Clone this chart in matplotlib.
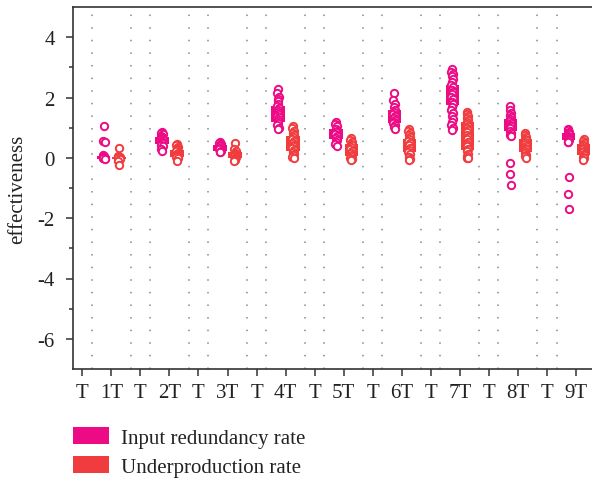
import matplotlib
matplotlib.use("Agg")
import matplotlib.pyplot as plt
from matplotlib.patches import Patch
import numpy as np

plt.rcParams['font.family'] = ['Liberation Serif', 'DejaVu Serif']

# ---------------- data ----------------
tick_labels = ["T", "1T", "T", "2T", "T", "3T", "T", "4T", "T", "5T",
               "T", "6T", "T", "7T", "T", "8T", "T", "9T"]
groups = ["1T", "2T", "3T", "4T", "5T", "6T", "7T", "8T", "9T"]
series_names = ["Input redundancy rate", "Underproduction rate"]

input_points = [
    [1.06, 0.56, 0.51, 0.08, 0.05, 0.03, 0.02, 0.01, 0.0, 0.0, -0.01, -0.02, -0.03],
    [0.86, 0.82, 0.78, 0.74, 0.70, 0.66, 0.62, 0.58, 0.55, 0.52, 0.48, 0.44, 0.38, 0.30, 0.23],
    [0.54, 0.50, 0.47, 0.43, 0.38, 0.33, 0.28, 0.24, 0.20, 0.18],
    [2.27, 2.15, 2.03, 1.95, 1.88, 1.80, 1.72, 1.65, 1.58, 1.52, 1.46, 1.40, 1.34, 1.28,
     1.22, 1.15, 1.08, 1.00, 0.95],
    [1.20, 1.12, 1.04, 0.97, 0.90, 0.84, 0.78, 0.72, 0.66, 0.60, 0.53, 0.45, 0.38],
    [2.14, 1.92, 1.80, 1.70, 1.60, 1.52, 1.45, 1.38, 1.32, 1.26, 1.20, 1.14, 1.08, 1.02, 0.97],
    [2.94, 2.86, 2.78, 2.70, 2.60, 2.50, 2.42, 2.34, 2.26, 2.18, 2.10, 2.02, 1.94, 1.86,
     1.78, 1.70, 1.60, 1.50, 1.40, 1.30, 1.20, 1.10, 1.00, 0.93],
    [1.72, 1.60, 1.50, 1.42, 1.35, 1.28, 1.22, 1.16, 1.10, 1.04, 0.98, 0.90, 0.82, 0.75,
     0.71, -0.18, -0.53, -0.90],
    [0.97, 0.92, 0.87, 0.82, 0.78, 0.74, 0.70, 0.66, 0.62, 0.58, 0.54, 0.51, -0.62, -1.20, -1.68],
]
under_points = [
    [0.31, 0.05, 0.03, 0.01, 0.0, -0.01, -0.02, -0.04, -0.10, -0.23],
    [0.45, 0.41, 0.37, 0.33, 0.29, 0.25, 0.21, 0.17, 0.13, 0.10, 0.07, 0.03, -0.02, -0.10],
    [0.49, 0.30, 0.22, 0.17, 0.13, 0.10, 0.07, 0.04, 0.01, -0.03, -0.07, -0.10],
    [1.06, 0.98, 0.90, 0.83, 0.76, 0.70, 0.63, 0.56, 0.50, 0.44, 0.38, 0.32, 0.26, 0.20,
     0.14, 0.08, 0.02, -0.02],
    [0.67, 0.60, 0.53, 0.47, 0.41, 0.35, 0.29, 0.23, 0.17, 0.11, 0.05, 0.0, -0.05, -0.08],
    [0.97, 0.90, 0.83, 0.76, 0.69, 0.62, 0.55, 0.48, 0.41, 0.34, 0.27, 0.20, 0.12, 0.04,
     -0.03, -0.07],
    [1.52, 1.46, 1.40, 1.33, 1.26, 1.19, 1.12, 1.05, 0.98, 0.91, 0.84, 0.77, 0.70, 0.62,
     0.54, 0.46, 0.38, 0.30, 0.22, 0.14, 0.07, 0.01, -0.02],
    [0.82, 0.76, 0.70, 0.64, 0.58, 0.52, 0.46, 0.40, 0.34, 0.28, 0.22, 0.16, 0.10, 0.05, 0.01],
    [0.62, 0.56, 0.50, 0.44, 0.38, 0.33, 0.28, 0.23, 0.18, 0.13, 0.08, 0.03, -0.02, -0.07],
]
input_q1 = [-0.04, 0.45, 0.21, 1.18, 0.62, 1.15, 1.75, 0.89, 0.59]
input_q3 = [0.06, 0.68, 0.43, 1.72, 0.95, 1.58, 2.41, 1.30, 0.82]
under_q1 = [-0.04, 0.02, -0.02, 0.23, 0.05, 0.20, 0.26, 0.20, 0.09]
under_q3 = [0.04, 0.26, 0.20, 0.71, 0.45, 0.62, 1.19, 0.62, 0.45]

# ---------------- style ----------------
PINK = "#EC0B84"
RED = "#F03C3F"
FS = 15

fig = plt.figure(figsize=(5.92, 4.81), dpi=100)
ax = fig.add_axes([72.7 / 592, 111 / 481, 1 - 72.7 / 592, 362 / 481])

centers = np.arange(1, 2 * len(groups), 2)
offset = 0.26
box_w = 0.46
jit = [0.0, -0.03, 0.03, -0.015, 0.015]

# dotted vertical gridlines around each group
for c in centers:
    ax.axvline(c - 0.672, color="#888888", lw=1.1, ls=(0, (1, 7.25)), zorder=0)
    ax.axvline(c + 0.672, color="#888888", lw=1.1, ls=(0, (1, 7.25)), zorder=0)

for pts_list, q1, q3, sign, col in [(input_points, input_q1, input_q3, -1, PINK),
                                     (under_points, under_q1, under_q3, 1, RED)]:
    xs = centers + sign * offset
    ax.bar(xs, np.array(q3) - np.array(q1), bottom=q1, width=box_w,
           color=col, edgecolor="none", zorder=2)
    for x, pts in zip(xs, pts_list):
        dx = np.array([jit[i % len(jit)] for i in range(len(pts))])
        ax.scatter(x + dx, pts, s=28, facecolor="white", edgecolor=col,
                   linewidth=1.4, zorder=3)

ax.set_xlim(-0.33, 17.55)
ax.set_ylim(-7, 5)
ax.set_xticks(np.arange(len(tick_labels)))
ax.set_xticklabels(tick_labels, fontsize=FS)
ax.set_yticks([-6, -4, -2, 0, 2, 4])
ax.set_yticklabels(["-6", "-4", "-2", "0", "2", "4"], fontsize=FS)
ax.set_yticks([-5, -3, -1, 1, 3], minor=True)
ax.tick_params(axis="both", which="major", direction="out", length=5, width=1.1,
               color="#333333", labelcolor="#222222")
ax.tick_params(axis="y", which="minor", direction="out", length=3, width=1.1,
               color="#333333")
ax.tick_params(axis="y", pad=8)
ax.tick_params(axis="x", pad=5)
ax.set_ylabel("effectiveness", fontsize=FS, color="#222222", labelpad=7)

for s in ["left", "bottom", "top"]:
    ax.spines[s].set_linewidth(1.2)
    ax.spines[s].set_color("#333333")
ax.spines["right"].set_visible(False)

handles = [Patch(facecolor=PINK, edgecolor="none", label=series_names[0]),
           Patch(facecolor=RED, edgecolor="none", label=series_names[1])]
fig.legend(handles=handles, loc="upper left", bbox_to_anchor=(72.7 / 592, 1 - 428 / 481),
           frameon=False, fontsize=FS, handlelength=1.73, handleheight=0.87,
           handletextpad=0.58, labelspacing=0.42, borderpad=0, borderaxespad=0,
           labelcolor="#222222")

fig.savefig("out.png", dpi=100)
